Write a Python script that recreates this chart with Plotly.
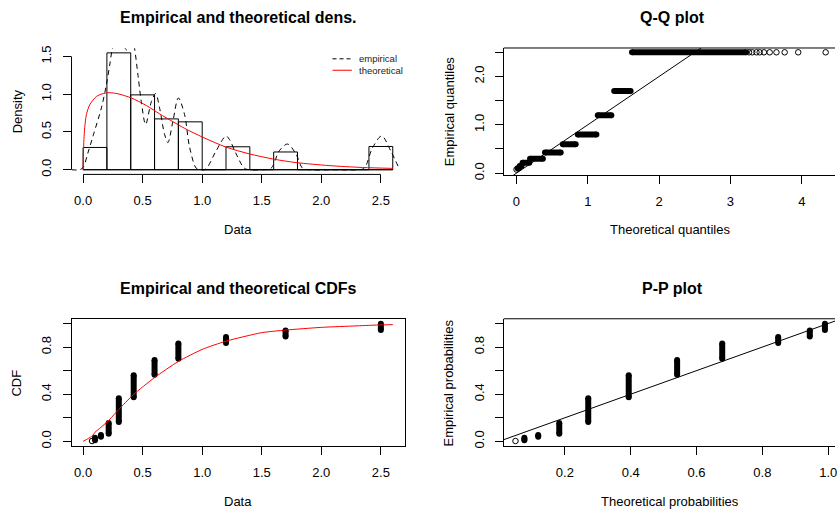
import plotly.graph_objects as go

W, H = 837, 520
FONT = "Liberation Sans, Arial, Helvetica, sans-serif"

# ------------------------------------------------------------------ data
# histogram (density scale)
hist_edges = [0.0, 0.2, 0.4, 0.6, 0.8, 1.0, 1.2, 1.4, 1.6, 1.8, 2.0, 2.2, 2.4, 2.6]
hist_density = [0.295, 1.547, 0.991, 0.673, 0.634, 0.0, 0.304, 0.0, 0.235, 0.0, 0.0, 0.0, 0.308]

# empirical kernel density
emp_dens_x = [-0.097, -0.03, 0.0, 0.04, 0.084, 0.154, 0.196, 0.225, 0.246, 0.29, 0.37, 0.415,
              0.433, 0.461, 0.489, 0.525, 0.573, 0.609, 0.642, 0.684, 0.712, 0.754, 0.80,
              0.852, 0.894, 0.95, 0.985, 1.02, 1.047, 1.117, 1.20, 1.229, 1.285, 1.354, 1.40,
              1.50, 1.578, 1.647, 1.717, 1.787, 1.843, 1.90, 2.10, 2.30, 2.36, 2.43, 2.507,
              2.583, 2.652]
emp_dens_y = [0.0, 0.0, 0.03, 0.22, 0.45, 0.82, 1.13, 1.40, 1.60, 1.78, 1.58, 1.74,
              1.60, 1.25, 0.90, 0.60, 0.90, 1.01, 0.82, 0.47, 0.36, 0.64, 0.95,
              0.73, 0.30, 0.02, 0.0, 0.0, 0.04, 0.25, 0.447, 0.40, 0.21, 0.02, 0.0,
              0.0, 0.02, 0.25, 0.34, 0.21, 0.02, 0.0, 0.0, 0.0, 0.02, 0.29, 0.447,
              0.25, 0.02]

# theoretical density (red)
th_dens_x = [0.0, 0.003, 0.007, 0.014, 0.028, 0.056, 0.112, 0.16, 0.22, 0.293, 0.405, 0.531,
             0.642, 0.75, 0.85, 1.005, 1.2, 1.396, 1.59, 1.787, 2.066, 2.345, 2.6]
th_dens_y = [0.0, 0.22, 0.40, 0.56, 0.73, 0.86, 0.97, 1.005, 1.02, 1.005, 0.95, 0.85,
             0.74, 0.64, 0.55, 0.43, 0.30, 0.21, 0.143, 0.095, 0.055, 0.03, 0.018]

# distinct data values and their empirical CDF span (lowest / highest point)
data_vals = [0.075, 0.10, 0.15, 0.215, 0.30, 0.425, 0.60, 0.80, 1.20, 1.70, 2.50]
ecdf_lo = [0.003, 0.010, 0.040, 0.065, 0.165, 0.375, 0.565, 0.700, 0.835, 0.890, 0.945]
ecdf_hi = [0.003, 0.030, 0.055, 0.155, 0.365, 0.560, 0.690, 0.830, 0.885, 0.940, 0.997]

# theoretical CDF (red) and theoretical probabilities of the data values
th_cdf_x = [0.0, 0.04, 0.08, 0.10, 0.15, 0.22, 0.30, 0.42, 0.60, 0.80, 1.00, 1.20, 1.50,
            1.70, 2.00, 2.30, 2.50, 2.60]
th_cdf_y = [0.0, 0.022, 0.05, 0.077, 0.119, 0.183, 0.271, 0.394, 0.541, 0.678, 0.78, 0.85,
            0.922, 0.944, 0.967, 0.98, 0.988, 0.99]
pp_theo = [0.050, 0.077, 0.119, 0.183, 0.271, 0.394, 0.541, 0.678, 0.848, 0.944, 0.990]

# Q-Q: theoretical quantile span of each data value
qq_lo = [0.0, 0.015, 0.045, 0.085, 0.19, 0.40, 0.65, 0.86, 1.14, 1.37, 1.62]
qq_hi = [0.0, 0.035, 0.070, 0.180, 0.37, 0.62, 0.83, 1.12, 1.33, 1.60, 3.22]
qq_tail_x = [3.26, 3.305, 3.365, 3.41, 3.47, 3.55, 3.645, 3.76, 3.95, 4.335]
qq_tail_y = [2.5] * len(qq_tail_x)

# ticks
dens_xticks = [0.0, 0.5, 1.0, 1.5, 2.0, 2.5]
dens_xlabels = ["0.0", "0.5", "1.0", "1.5", "2.0", "2.5"]
dens_yticks = [0.0, 0.5, 1.0, 1.5]
dens_ylabels = ["0.0", "0.5", "1.0", "1.5"]
qq_xticks = [0, 1, 2, 3, 4]
qq_xlabels = ["0", "1", "2", "3", "4"]
qq_yticks = [0.0, 0.5, 1.0, 1.5, 2.0, 2.5]
qq_ylabels = ["0.0", "", "1.0", "", "2.0", ""]
prob_yticks = [0.0, 0.2, 0.4, 0.6, 0.8, 1.0]
prob_ylabels = ["0.0", "", "0.4", "", "0.8", ""]
pp_xticks = [0.2, 0.4, 0.6, 0.8, 1.0]
pp_xlabels = ["0.2", "0.4", "0.6", "0.8", "1.0"]

# ------------------------------------------------------------------ layout helpers
def px_x(p):
    return p / W


def px_y(p):
    return 1 - p / H


BAND = 6  # width of the black bands of overlapping points

fig = go.Figure()


def band_trace(xs_lo, xs_hi, ys_lo, ys_hi, xa, ya):
    bx, by = [], []
    ox, oy = [], []
    for a, b, c, d in zip(xs_lo, xs_hi, ys_lo, ys_hi):
        if a == b and c == d:
            ox.append(a)
            oy.append(c)
        else:
            bx += [a, b, None]
            by += [c, d, None]
    fig.add_trace(go.Scatter(x=bx, y=by, mode="lines+markers", xaxis=xa, yaxis=ya,
                             line=dict(color="black", width=BAND),
                             marker=dict(color="black", size=BAND, symbol="circle"),
                             showlegend=False, hoverinfo="skip"))
    if ox:
        fig.add_trace(go.Scatter(x=ox, y=oy, mode="markers", xaxis=xa, yaxis=ya,
                                 marker=dict(symbol="circle-open", size=5.5, color="black",
                                             line=dict(width=1, color="black")),
                                 showlegend=False, hoverinfo="skip"))


# ---------------- panel 1: densities
centers = [(a + b) / 2 for a, b in zip(hist_edges[:-1], hist_edges[1:])]
widths = [b - a for a, b in zip(hist_edges[:-1], hist_edges[1:])]
fig.add_trace(go.Scatter(x=[hist_edges[0], hist_edges[-1]], y=[0, 0], mode="lines",
                         line=dict(color="black", width=1), xaxis="x", yaxis="y",
                         showlegend=False, hoverinfo="skip"))
fig.add_trace(go.Bar(x=centers, y=hist_density, width=widths, xaxis="x", yaxis="y",
                     marker=dict(color="rgba(0,0,0,0)", line=dict(color="black", width=1)),
                     showlegend=False, hoverinfo="skip"))
fig.add_trace(go.Scatter(x=emp_dens_x, y=emp_dens_y, mode="lines", xaxis="x", yaxis="y",
                         line=dict(color="black", width=1, dash="5px,4px", shape="spline",
                                   smoothing=0.9),
                         showlegend=False, hoverinfo="skip"))
fig.add_trace(go.Scatter(x=th_dens_x, y=th_dens_y, mode="lines", xaxis="x", yaxis="y",
                         line=dict(color="#FF0000", width=1, shape="spline", smoothing=0.8),
                         showlegend=False, hoverinfo="skip"))

# ---------------- panel 2: Q-Q
band_trace(qq_lo, qq_hi, data_vals, data_vals, "x2", "y2")
fig.add_trace(go.Scatter(x=qq_tail_x, y=qq_tail_y, mode="markers", xaxis="x2", yaxis="y2",
                         marker=dict(symbol="circle-open", size=5.5, color="black",
                                     line=dict(width=1, color="black")),
                         showlegend=False, hoverinfo="skip"))

# ---------------- panel 3: CDFs
band_trace(data_vals, data_vals, ecdf_lo, ecdf_hi, "x3", "y3")
fig.add_trace(go.Scatter(x=th_cdf_x, y=th_cdf_y, mode="lines", xaxis="x3", yaxis="y3",
                         line=dict(color="#FF0000", width=1, shape="spline", smoothing=0.6),
                         showlegend=False, hoverinfo="skip"))

# ---------------- panel 4: P-P
band_trace(pp_theo, pp_theo, ecdf_lo, ecdf_hi, "x4", "y4")

# axis geometry (pixel positions of the plot regions)
P1 = dict(x=(71.7, 406.0), y=(45.9, 174.1), xr=[-0.097, 2.703], yr=[-0.062, 1.609])
P2 = dict(x=(505.0, 837.0), y=(45.7, 175.0), xr=[-0.178, 4.466], yr=[-0.045, 2.589])
P3 = dict(x=(71.7, 406.0), y=(320.7, 450.0), xr=[-0.097, 2.703], yr=[-0.04, 1.04])
P4 = dict(x=(505.0, 837.0), y=(320.7, 450.0), xr=[0.0145, 1.0206], yr=[-0.04, 1.04])

# reference lines y = x
fig.add_trace(go.Scatter(x=[P2["xr"][0], P2["yr"][1]], y=[P2["xr"][0], P2["yr"][1]],
                         mode="lines", xaxis="x2", yaxis="y2",
                         line=dict(color="black", width=1), showlegend=False,
                         hoverinfo="skip"))
fig.add_trace(go.Scatter(x=[P4["xr"][0], P4["xr"][1]], y=[P4["xr"][0], P4["xr"][1]],
                         mode="lines", xaxis="x4", yaxis="y4",
                         line=dict(color="black", width=1), showlegend=False,
                         hoverinfo="skip"))

tickfont = dict(family=FONT, size=13, color="black")


def xaxis(P, anchor, tv, tt, line, mirror=False):
    return dict(domain=[px_x(P["x"][0]), px_x(P["x"][1])], range=P["xr"], anchor=anchor,
                tickmode="array", tickvals=tv, ticktext=tt, ticks="outside", ticklen=8,
                tickwidth=1, tickcolor="black", showgrid=False, zeroline=False,
                showline=line, linecolor="black", linewidth=1, mirror=mirror,
                tickfont=tickfont, ticklabelstandoff=6, ticklabeloverflow="allow",
                fixedrange=True)


def yaxis(P, anchor, tv, tt, line, mirror=False):
    return dict(domain=[px_y(P["y"][1]), px_y(P["y"][0])], range=P["yr"], anchor=anchor,
                tickmode="array", tickvals=tv, ticktext=tt, ticks="outside", ticklen=8,
                tickwidth=1, tickcolor="black", showgrid=False, zeroline=False,
                showline=line, linecolor="black", linewidth=1, mirror=mirror,
                tickfont=tickfont, tickangle=-90, ticklabelstandoff=6,
                ticklabeloverflow="allow", fixedrange=True)


shapes = [
    # panel 1 axis lines spanning the tick range only
    dict(type="line", xref="x", yref="y domain", x0=dens_xticks[0], x1=dens_xticks[-1],
         y0=0, y1=0, line=dict(color="black", width=1)),
    dict(type="line", xref="x domain", yref="y", x0=0, x1=0, y0=dens_yticks[0],
         y1=dens_yticks[-1], line=dict(color="black", width=1)),
    # top edges of the (cut off) right-hand boxes
    dict(type="line", xref="x2 domain", yref="y2 domain", x0=0, x1=1, y0=1, y1=1,
         line=dict(color="black", width=1)),
    dict(type="line", xref="x4 domain", yref="y4 domain", x0=0, x1=1, y0=1, y1=1,
         line=dict(color="black", width=1)),
    # legend keys
    dict(type="line", xref="paper", yref="paper", x0=px_x(333.3), x1=px_x(352.7),
         y0=px_y(56.7), y1=px_y(56.7), line=dict(color="black", width=1, dash="4px,3px")),
    dict(type="line", xref="paper", yref="paper", x0=px_x(333.3), x1=px_x(352.7),
         y0=px_y(68.3), y1=px_y(68.3), line=dict(color="#FF0000", width=1)),
]


def ann(text, x, y, size=13, angle=0, bold=False, xanchor="center", color="black"):
    return dict(text=("<b>%s</b>" % text) if bold else text, x=px_x(x), y=px_y(y),
                xref="paper", yref="paper", showarrow=False, xanchor=xanchor,
                yanchor="middle", textangle=angle,
                font=dict(family=FONT, size=size, color=color))


annotations = [
    ann("Empirical and theoretical dens.", 238.8, 15, size=16, bold=True),
    ann("Q-Q plot", 674, 15, size=16, bold=True),
    ann("Empirical and theoretical CDFs", 238.8, 290, size=16, bold=True),
    ann("P-P plot", 674, 290, size=16, bold=True),
    ann("Data", 238.8, 230),
    ann("Theoretical quantiles", 672, 230),
    ann("Data", 238.8, 506.5),
    ann("Theoretical probabilities", 672, 506.5),
    ann("Density", 17, 110, angle=-90),
    ann("Empirical quantiles", 450, 110, angle=-90),
    ann("CDF", 17, 385.5, angle=-90),
    ann("Empirical probabilities", 450, 385.5, angle=-90),
    ann("empirical", 358.3, 56.7, size=9.5, xanchor="left", color="#222222"),
    ann("theoretical", 358.3, 68.3, size=9.5, xanchor="left", color="#222222"),
]

fig.update_layout(
    width=W, height=H, margin=dict(l=0, r=0, t=0, b=0, pad=0),
    paper_bgcolor="white", plot_bgcolor="white", barmode="overlay", bargap=0,
    font=dict(family=FONT, size=13, color="black"),
    xaxis=xaxis(P1, "y", dens_xticks, dens_xlabels, False),
    yaxis=yaxis(P1, "x", dens_yticks, dens_ylabels, False),
    xaxis2=xaxis(P2, "y2", qq_xticks, qq_xlabels, True),
    yaxis2=yaxis(P2, "x2", qq_yticks, qq_ylabels, True),
    xaxis3=xaxis(P3, "y3", dens_xticks, dens_xlabels, True, mirror=True),
    yaxis3=yaxis(P3, "x3", prob_yticks, prob_ylabels, True, mirror=True),
    xaxis4=xaxis(P4, "y4", pp_xticks, pp_xlabels, True),
    yaxis4=yaxis(P4, "x4", prob_yticks, prob_ylabels, True),
    shapes=shapes, annotations=annotations, showlegend=False,
)

fig.write_html("out.html", config=dict(displayModeBar=False, staticPlot=True),
               post_script="document.body.style.margin='0';"
                           "document.body.style.overflow='hidden';")
